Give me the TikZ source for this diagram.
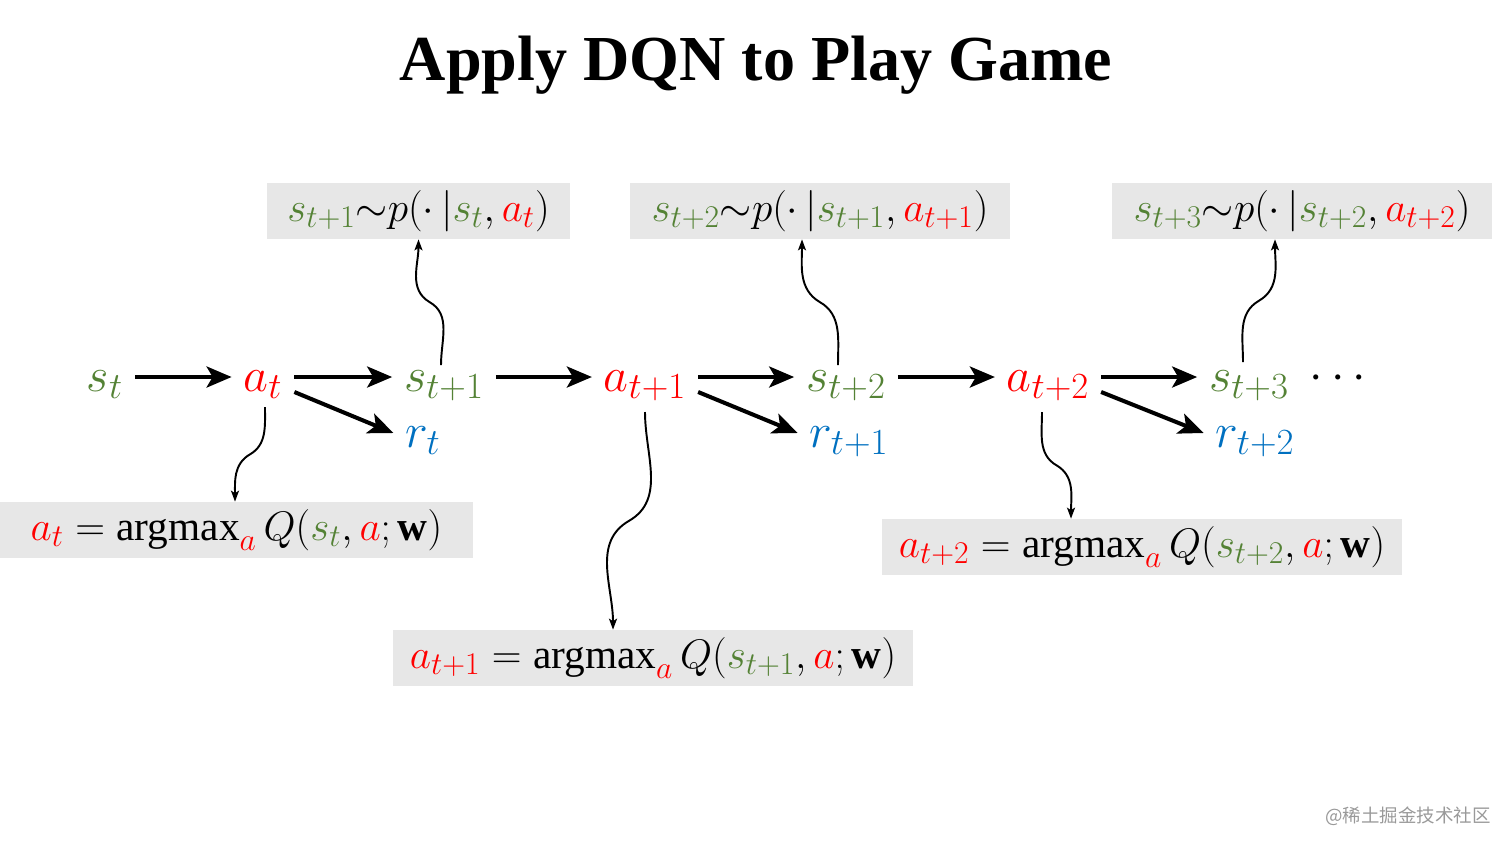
\RequirePackage{fix-cm}
\documentclass[tikz,border=0pt]{standalone}
\usepackage{fontspec}
\setmainfont{Liberation Serif}
\newfontfamily\cjkfont{Noto Sans CJK SC}
\usetikzlibrary{arrows.meta,calc}

\definecolor{stategreen}{HTML}{548235}
\definecolor{actionred}{HTML}{FF0000}
\definecolor{rewardblue}{HTML}{0070C0}
\definecolor{boxgray}{HTML}{E7E7E7}

\DeclareMathSizes{27.5}{27.5}{21}{16}
\DeclareMathSizes{23.5}{23.5}{18}{14}

\newcommand{\stv}[1]{\textcolor{stategreen}{s_{#1}}}
\newcommand{\acv}[1]{\textcolor{actionred}{a_{#1}}}
\newcommand{\rwv}[1]{\textcolor{rewardblue}{r_{#1}}}

\tikzset{
    title/.style = {
        font=\fontsize{36.5}{44}\selectfont\bfseries
    },
    var/.style = {
        anchor=base,
        inner sep=0pt,
        outer xsep=0.24cm,
        outer ysep=0pt,
        text height=0.62cm,
        text depth=0.06cm,
        font=\fontsize{27.5}{33}\selectfont
    },
    formula/.style = {
        fill=boxgray,
        inner sep=0pt,
        minimum height=1.12cm,
        font=\fontsize{23.5}{28}\selectfont
    },
    flow/.style = {
        draw,
        -{Stealth[length=0.5cm, width=0.42cm, inset=0.12cm]},
        line width=2.3pt
    },
    brace/.style = {
        draw,
        -{Stealth[length=0.22cm, width=0.16cm, inset=0.05cm]},
        line width=1.1pt
    },
    watermark/.style = {
        text=black!40,
        font=\cjkfont\fontsize{10.5}{12}\selectfont
    },
}

\begin{document}
\begin{tikzpicture}[x=0.02cm, y=-0.02cm]
    \useasboundingbox (0,0) rectangle (1512,850);
    \node[title] (title) at (756,65) {Apply DQN to Play Game};

    % states, actions, rewards
    \node[var] (s0) at (105,391) {$\stv{t}$};
    \node[var] (a0) at (263,391) {$\acv{t}$};
    \node[var] (s1) at (444,391) {$\stv{t+1}$};
    \node[var] (r0) at (423,447) {$\rwv{t}$};
    \node[var] (a1) at (645,391) {$\acv{t+1}$};
    \node[var] (s2) at (846,391) {$\stv{t+2}$};
    \node[var] (r1) at (849,447) {$\rwv{t+1}$};
    \node[var] (a2) at (1048,391) {$\acv{t+2}$};
    \node[var] (s3) at (1249,391) {$\stv{t+3}$};
    \node[var] (r2) at (1255,447) {$\rwv{t+2}$};
    \node[var] (more) at (1338,389) {$\cdots$};

    % transitions and policies
    \node[formula, minimum width=6.06cm] (p1) at (418.5,211) {$\stv{t+1}{\sim}p(\cdot\,|\stv{t},\acv{t})$};
    \node[formula, minimum width=7.6cm] (p2) at (820,211) {$\stv{t+2}{\sim}p(\cdot\,|\stv{t+1},\acv{t+1})$};
    \node[formula, minimum width=7.6cm] (p3) at (1302,211) {$\stv{t+3}{\sim}p(\cdot\,|\stv{t+2},\acv{t+2})$};
    \node[formula, minimum width=9.46cm] (q0) at (236.5,530) {$\acv{t} = \mbox{argmax}_{\textcolor{actionred}{a}}\, Q(\stv{t},\textcolor{actionred}{a};\mathbf{w})$\hspace{0.2cm}};
    \node[formula, minimum width=10.4cm] (q1) at (653,658) {$\acv{t+1} = \mbox{argmax}_{\textcolor{actionred}{a}}\, Q(\stv{t+1},\textcolor{actionred}{a};\mathbf{w})$\hspace{0.2cm}};
    \node[formula, minimum width=10.4cm] (q2) at (1142,547) {$\acv{t+2} = \mbox{argmax}_{\textcolor{actionred}{a}}\, Q(\stv{t+2},\textcolor{actionred}{a};\mathbf{w})$\hspace{0.2cm}};

    \node[watermark] (wm) at (1408,816) {@稀土掘金技术社区};

    \path[flow] (s0) -- (a0);
    \path[flow] (a0) -- (s1);
    \path[flow] ([yshift=-0.3cm]a0.east) -- (r0.west);
    \path[flow] (s1) -- (a1);
    \path[flow] (a1) -- (s2);
    \path[flow] ([yshift=-0.3cm]a1.east) -- (r1.west);
    \path[flow] (s2) -- (a2);
    \path[flow] (a2) -- (s3);
    \path[flow] ([yshift=-0.3cm]a2.east) -- (r2.west);

    % brace-like links
    \coordinate (u1) at ([xshift=-0.06cm,yshift=-0.1cm]s1.north);
    \coordinate (u2) at ([xshift=-0.16cm,yshift=-0.1cm]s2.north);
    \coordinate (u3) at ([xshift=-0.12cm,yshift=-0.04cm]s3.north);
    \coordinate (v1) at (p1.south);
    \coordinate (v2) at ([xshift=-0.36cm]p2.south);
    \coordinate (v3) at ([xshift=-0.54cm]p3.south);
    \coordinate (d0) at ([xshift=0.04cm,yshift=-0.26cm]a0.south);
    \coordinate (d1) at ([yshift=-0.36cm]a1.south);
    \coordinate (d2) at ([xshift=-0.12cm,yshift=-0.36cm]a2.south);
    \coordinate (e0) at ([xshift=-0.03cm]q0.north);
    \coordinate (e1) at ([xshift=-0.8cm]q1.north);
    \coordinate (e2) at ([xshift=-1.42cm]q2.north);

    \path[brace] (u1) to[out=90, in=-30] ($(u1)!0.5!(v1)$) to[out=150, in=-90] (v1);
    \path[brace] (u2) to[out=90, in=-30] ($(u2)!0.5!(v2)$) to[out=150, in=-90] (v2);
    \path[brace] (u3) to[out=90, in=210] ($(u3)!0.5!(v3)$) to[out=30, in=-90] (v3);
    \path[brace] (d0) to[out=-90, in=30] ($(d0)!0.5!(e0)$) to[out=210, in=90] (e0);
    \path[brace] (d1) to[out=-90, in=30] ($(d1)!0.5!(e1)$) to[out=210, in=90] (e1);
    \path[brace] (d2) to[out=-90, in=150] ($(d2)!0.5!(e2)$) to[out=-30, in=90] (e2);
\end{tikzpicture}
\end{document}
